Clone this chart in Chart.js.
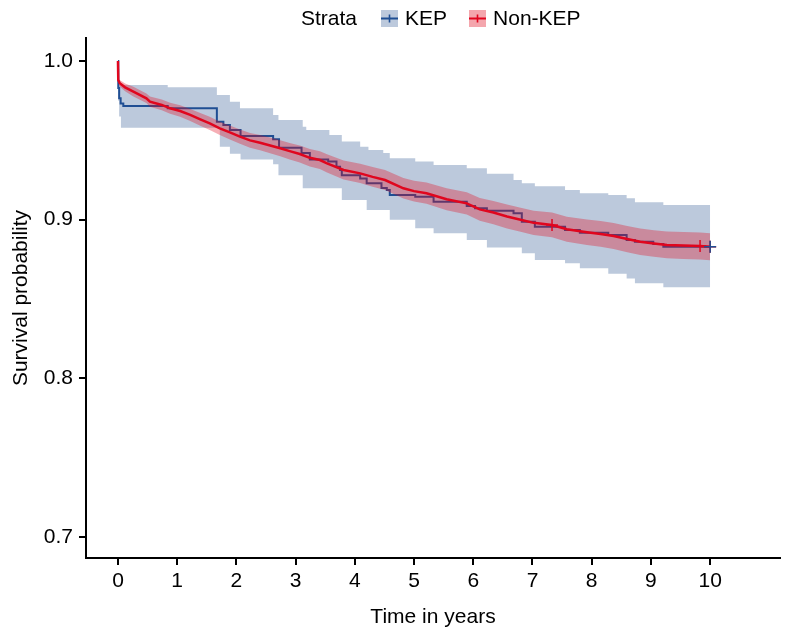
<!DOCTYPE html>
<html>
<head>
<meta charset="utf-8">
<script src="https://cdn.jsdelivr.net/npm/chart.js@4/dist/chart.umd.min.js"></script>
<style>
  html, body { margin: 0; padding: 0; background: #fff; }
  #wrap { position: relative; width: 789px; height: 631px; }
  #legend { position: absolute; left: 301px; top: 4px; height: 28px; display: flex; align-items: center;
            font: 21px "Liberation Sans", Arial, sans-serif; color: #000; white-space: nowrap; }
  #legend svg { display: block; }
</style>
</head>
<body>
<div id="wrap">
  <canvas id="c" width="789" height="631"></canvas>
  <div id="legend"></div>
</div>
<script>
// ---------- data ----------
const legendTitle = "Strata";
const seriesNames = ["KEP", "Non-KEP"];
const xTickValues = [0, 1, 2, 3, 4, 5, 6, 7, 8, 9, 10];
const yTickValues = [0.7, 0.8, 0.9, 1.0];
const xTitle = "Time in years";
const yTitle = "Survival probability";

// KEP Kaplan-Meier estimate (step: value reached at given time)
const kepTime = [0, 0.005, 0.02, 0.045, 0.09, 0.84, 1.67, 1.78, 1.89, 2.07, 2.62, 2.72, 3.10, 3.24, 3.55, 3.69, 3.75, 3.78, 4.09, 4.20, 4.45, 4.54, 4.59, 5.02, 5.33, 5.89, 6.03, 6.23, 6.68, 6.82, 7.04, 7.55, 7.80, 8.28, 8.59, 8.73, 9.04, 9.21, 10.0];
const kepSurv = [1.0, 0.983, 0.9765, 0.9733, 0.9716, 0.9703, 0.9618, 0.9597, 0.9565, 0.9527, 0.9507, 0.9454, 0.942, 0.938, 0.9366, 0.9334, 0.9313, 0.928, 0.926, 0.923, 0.920, 0.9187, 0.9156, 0.9145, 0.9113, 0.9086, 0.9072, 0.9057, 0.904, 0.8987, 0.8956, 0.8935, 0.8918, 0.8904, 0.8872, 0.8861, 0.8847, 0.883, 0.883];

const kepUpperTime = [0, 0.005, 0.02, 0.84, 1.67, 1.89, 2.06, 2.62, 2.71, 3.12, 3.18, 3.57, 3.78, 4.09, 4.23, 4.48, 4.59, 5.02, 5.33, 5.89, 6.23, 6.68, 6.82, 7.04, 7.55, 7.80, 8.28, 8.59, 8.73, 9.21, 10.0];
const kepUpperVal = [1.0, 0.995, 0.9849, 0.9834, 0.9786, 0.9744, 0.9702, 0.966, 0.9628, 0.9586, 0.9565, 0.9534, 0.9492, 0.946, 0.9439, 0.942, 0.9387, 0.9366, 0.9345, 0.9324, 0.929, 0.925, 0.923, 0.921, 0.9187, 0.9167, 0.9156, 0.9135, 0.911, 0.9093, 0.9093];

const kepLowerTime = [0, 0.005, 0.02, 0.05, 1.72, 1.89, 2.07, 2.62, 2.71, 3.12, 3.78, 4.20, 4.59, 5.02, 5.33, 5.89, 6.23, 6.82, 7.04, 7.55, 7.80, 8.28, 8.59, 8.73, 9.21, 10.0];
const kepLowerVal = [1.0, 0.975, 0.965, 0.958, 0.946, 0.9415, 0.938, 0.935, 0.928, 0.9198, 0.9124, 0.9061, 0.8999, 0.8946, 0.8915, 0.8872, 0.8825, 0.8788, 0.8746, 0.8725, 0.8694, 0.866, 0.863, 0.86, 0.8574, 0.8574];

// Non-KEP estimate and its confidence band
const nonKepTime = [0, 0.005, 0.03, 0.12, 0.26, 0.48, 0.54, 0.74, 0.88, 1.05, 1.22, 1.39, 1.55, 1.72, 1.89, 2.06, 2.23, 2.40, 2.57, 2.74, 2.90, 3.07, 3.24, 3.41, 3.53, 3.81, 4.09, 4.30, 4.51, 4.82, 5.00, 5.21, 5.55, 5.89, 6.11, 6.34, 6.57, 6.80, 7.02, 7.33, 7.58, 7.92, 8.15, 8.37, 8.60, 8.82, 9.05, 9.27, 9.55, 9.83, 10.0];
const nonKepSurv = [1.0, 0.988, 0.986, 0.9834, 0.9807, 0.9765, 0.9744, 0.9723, 0.9702, 0.9685, 0.966, 0.9632, 0.9607, 0.9576, 0.955, 0.9523, 0.950, 0.9485, 0.9468, 0.945, 0.9432, 0.9414, 0.939, 0.9376, 0.9355, 0.9313, 0.9292, 0.927, 0.925, 0.9198, 0.918, 0.9167, 0.9129, 0.9103, 0.9065, 0.9045, 0.902, 0.900, 0.898, 0.8967, 0.894, 0.8921, 0.891, 0.8897, 0.8878, 0.8861, 0.885, 0.8841, 0.8838, 0.8834, 0.883];
const nonKepUpper = [1.0, 0.989, 0.988, 0.9859, 0.9837, 0.9795, 0.9776, 0.9757, 0.9737, 0.9721, 0.9698, 0.9672, 0.9648, 0.9618, 0.9594, 0.9568, 0.9546, 0.9533, 0.9518, 0.950, 0.9484, 0.9467, 0.9445, 0.9432, 0.9412, 0.9373, 0.9353, 0.9332, 0.9313, 0.9263, 0.9246, 0.9234, 0.9198, 0.9173, 0.9137, 0.9118, 0.9095, 0.9076, 0.9057, 0.9045, 0.9019, 0.9001, 0.8991, 0.8979, 0.8961, 0.8944, 0.8934, 0.8925, 0.8923, 0.8919, 0.8915];
const nonKepLower = [1.0, 0.987, 0.984, 0.9809, 0.9777, 0.9735, 0.9712, 0.9689, 0.9667, 0.9649, 0.9622, 0.9592, 0.9566, 0.9534, 0.9506, 0.9478, 0.9454, 0.9437, 0.9418, 0.940, 0.938, 0.9361, 0.9335, 0.932, 0.9298, 0.9253, 0.9231, 0.9208, 0.9187, 0.9133, 0.9114, 0.91, 0.906, 0.9033, 0.8993, 0.8972, 0.8945, 0.8924, 0.8903, 0.8889, 0.8861, 0.8841, 0.8829, 0.8815, 0.8795, 0.8778, 0.8766, 0.8757, 0.8753, 0.8749, 0.8745];

// censoring marks
const censorKepTime = [10.0];
const censorKepSurv = [0.883];
const censorNonKepTime = [7.33, 9.83, 10.0];
const censorNonKepSurv = [0.8967, 0.8834, 0.883];

// ---------- styling ----------
const FONT = '"Liberation Sans", Arial, sans-serif';
const kepLineColor = '#1F4E93';
const kepBandColor = '#BCC9DC';
const nonKepLineColor = '#E0061E';
const nonKepBandColor = 'rgba(228,10,30,0.33)';

const zip = (xs, ys) => xs.map((x, i) => ({ x: x, y: ys[i] }));

// ---------- legend (HTML) ----------
function legendBox(fill, line) {
  return '<svg width="17" height="17" viewBox="0 0 17 17">' +
    '<rect x="0" y="0" width="17" height="17" fill="' + fill + '"/>' +
    '<line x1="0" y1="8.5" x2="17" y2="8.5" stroke="' + line + '" stroke-width="2"/>' +
    '<line x1="8.5" y1="4.5" x2="8.5" y2="12.5" stroke="' + line + '" stroke-width="1.6"/>' +
    '</svg>';
}
document.getElementById('legend').innerHTML =
  '<span>' + legendTitle + '</span>' +
  '<span style="display:inline-block;width:24px"></span>' + legendBox(kepBandColor, kepLineColor) +
  '<span style="margin-left:7px">' + seriesNames[0] + '</span>' +
  '<span style="display:inline-block;width:22px"></span>' + legendBox('rgba(244,166,173,1)', nonKepLineColor) +
  '<span style="margin-left:7px">' + seriesNames[1] + '</span>';

// ---------- chart ----------
const common = { pointRadius: 0, pointHoverRadius: 0, showLine: true };

new Chart(document.getElementById('c'), {
  type: 'line',
  data: {
    datasets: [
      Object.assign({ label: 'KEP lower', data: zip(kepLowerTime, kepLowerVal), stepped: 'before',
        borderWidth: 0, borderColor: 'rgba(0,0,0,0)', fill: false, order: 6 }, common),
      Object.assign({ label: 'KEP upper', data: zip(kepUpperTime, kepUpperVal), stepped: 'before',
        borderWidth: 0, borderColor: 'rgba(0,0,0,0)', backgroundColor: kepBandColor, fill: '-1', order: 5 }, common),
      Object.assign({ label: seriesNames[0], data: zip(kepTime, kepSurv), stepped: 'before',
        borderWidth: 2, borderColor: kepLineColor, fill: false, order: 4 }, common),
      Object.assign({ label: 'Non-KEP lower', data: zip(nonKepTime, nonKepLower),
        borderWidth: 0, borderColor: 'rgba(0,0,0,0)', fill: false, order: 3, tension: 0 }, common),
      Object.assign({ label: 'Non-KEP upper', data: zip(nonKepTime, nonKepUpper),
        borderWidth: 0, borderColor: 'rgba(0,0,0,0)', backgroundColor: nonKepBandColor, fill: '-1', order: 2, tension: 0 }, common),
      Object.assign({ label: seriesNames[1], data: zip(nonKepTime, nonKepSurv),
        borderWidth: 2.5, borderColor: nonKepLineColor, fill: false, order: 1, tension: 0 }, common),
      { label: 'KEP censored', data: zip(censorKepTime, censorKepSurv), showLine: false,
        pointStyle: 'cross', pointRadius: 6, borderColor: kepLineColor, borderWidth: 1.5, order: 0 },
      { label: 'Non-KEP censored', data: zip(censorNonKepTime, censorNonKepSurv), showLine: false,
        pointStyle: 'cross', pointRadius: 6, borderColor: nonKepLineColor, borderWidth: 1.5, order: 0 }
    ]
  },
  options: {
    responsive: false,
    animation: false,
    events: [],
    layout: { padding: { top: 38, right: 9, left: 0, bottom: 0 } },
    plugins: { legend: { display: false }, tooltip: { enabled: false } },
    scales: {
      x: {
        type: 'linear',
        min: -0.54, max: 11.18,
        afterBuildTicks: (axis) => { axis.ticks = xTickValues.map(v => ({ value: v })); },
        afterFit: (axis) => { axis.height = 73; },
        ticks: { color: '#000', font: { family: FONT, size: 21 }, padding: 4,
                 callback: (v) => String(v), maxRotation: 0, autoSkip: false },
        grid: { display: true, drawOnChartArea: false, drawTicks: true, tickLength: 7, color: '#000', lineWidth: 2 },
        border: { display: true, color: '#000', width: 2 },
        title: { display: true, text: xTitle, color: '#000', font: { family: FONT, size: 21 },
                 padding: { top: 0, bottom: 1 } }
      },
      y: {
        type: 'linear',
        min: 0.6868, max: 1.0145,
        afterBuildTicks: (axis) => { axis.ticks = yTickValues.map(v => ({ value: v })); },
        afterFit: (axis) => { axis.width = 86; },
        ticks: { color: '#000', font: { family: FONT, size: 21 }, padding: 6,
                 callback: (v) => Number(v).toFixed(1), autoSkip: false },
        grid: { display: true, drawOnChartArea: false, drawTicks: true, tickLength: 7, color: '#000', lineWidth: 2 },
        border: { display: true, color: '#000', width: 2 },
        title: { display: true, text: yTitle, color: '#000', font: { family: FONT, size: 21 },
                 padding: { top: 9, bottom: 0 } }
      }
    }
  }
});
</script>
</body>
</html>
